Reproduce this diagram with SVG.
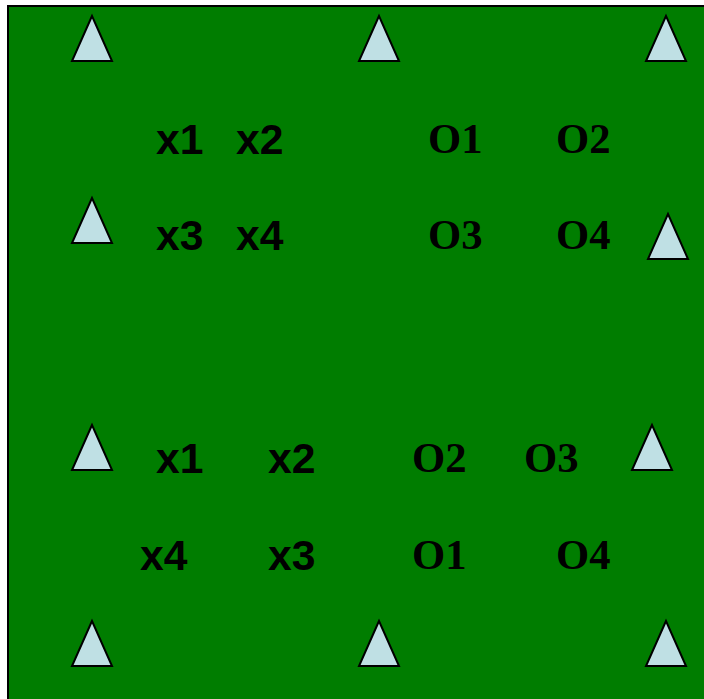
<svg xmlns="http://www.w3.org/2000/svg" width="704" height="699" viewBox="0 0 704 699">
<defs>
<style>
.bg{fill:#007d00;stroke:#000;stroke-width:2}
.tri{fill:#bfe0e4;stroke:#000;stroke-width:2;stroke-linejoin:miter}
.x{font-family:"Liberation Sans",Arial,sans-serif;font-weight:bold;font-size:42.67px;fill:#000}
.o{font-family:"Liberation Serif","Times New Roman",serif;font-weight:bold;font-size:42.67px;fill:#000}
</style>
<polygon id="t" class="tri" points="0,0 -20,45 20,45"/>
</defs>
<rect class="bg" x="8" y="6" width="704" height="700"/>
<g id="connectors"/>
<g id="triangles">
<g id="tri1"><use href="#t" x="92" y="16"/></g>
<g id="tri2"><use href="#t" x="379" y="16"/></g>
<g id="tri3"><use href="#t" x="666" y="16"/></g>
<g id="tri4"><use href="#t" x="92" y="198"/></g>
<g id="tri5"><use href="#t" x="668" y="214"/></g>
<g id="tri6"><use href="#t" x="92" y="425"/></g>
<g id="tri7"><use href="#t" x="652" y="425"/></g>
<g id="tri8"><use href="#t" x="92" y="621"/></g>
<g id="tri9"><use href="#t" x="379" y="621"/></g>
<g id="tri10"><use href="#t" x="666" y="621"/></g>
</g>
<g id="labels-top">
<g id="tx1"><text class="x" x="156" y="154">x1</text></g>
<g id="tx2"><text class="x" x="236" y="154">x2</text></g>
<g id="tx3"><text class="x" x="156" y="250">x3</text></g>
<g id="tx4"><text class="x" x="236" y="250">x4</text></g>
<g id="to1"><text class="o" x="428" y="153">O1</text></g>
<g id="to2"><text class="o" x="556" y="153">O2</text></g>
<g id="to3"><text class="o" x="428" y="249">O3</text></g>
<g id="to4"><text class="o" x="556" y="249">O4</text></g>
</g>
<g id="labels-bottom">
<g id="bx1"><text class="x" x="156" y="473">x1</text></g>
<g id="bx2"><text class="x" x="268" y="473">x2</text></g>
<g id="bx4"><text class="x" x="140" y="570">x4</text></g>
<g id="bx3"><text class="x" x="268" y="570">x3</text></g>
<g id="bo2"><text class="o" x="412" y="472">O2</text></g>
<g id="bo3"><text class="o" x="524" y="472">O3</text></g>
<g id="bo1"><text class="o" x="412" y="569">O1</text></g>
<g id="bo4"><text class="o" x="556" y="569">O4</text></g>
</g>
</svg>
